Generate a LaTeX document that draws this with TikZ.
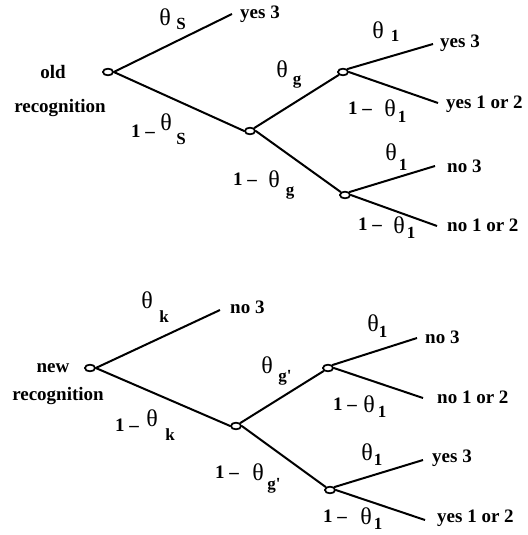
\documentclass[tikz,border=0pt]{standalone}
\usepackage{fontspec}
\setmainfont{Liberation Serif}[BoldFont={Liberation Serif Bold}]
\usetikzlibrary{shapes.geometric}
\tikzset{
  br/.style={line width=2pt},
  knot/.style={ellipse, draw, line width=1.6pt, minimum width=10pt, minimum height=6.5pt, inner sep=0pt, fill=white},
  lbl/.style={font=\fontsize{19}{21}\selectfont\bfseries, inner sep=0pt},
  txt/.style={lbl, anchor=west},
  th/.style={font=\fontsize{24}{26}\selectfont, inner sep=0pt},
  sb/.style={font=\fontsize{17}{19}\selectfont\bfseries, inner sep=0pt},
}
\begin{document}
\begin{tikzpicture}[x=1pt,y=-1pt]
\useasboundingbox (0,0) rectangle (527,535);
% ---------- top tree ----------
\node[knot] (r1) at (108,72) {};
\coordinate (e1) at (232,14);
\node[knot] (b1) at (250,131) {};
\node[knot] (c1) at (343,72) {};
\node[knot] (d1) at (345,195) {};
\coordinate (e2) at (433,44);
\coordinate (e3) at (438,103);
\coordinate (e4) at (435,166);
\coordinate (e5) at (437,226);
\draw[br] (r1.east) -- (e1);
\draw[br] (r1.east) -- (b1.west);
\draw[br] (b1.north east) -- (c1.south west);
\draw[br] (b1.east) -- (d1.north west);
\draw[br] (c1.north east) -- (e2);
\draw[br] (c1.east) -- (e3);
\draw[br] (d1.north east) -- (e4);
\draw[br] (d1.east) -- (e5);
\node[knot] at (r1) {};
\node[knot] at (b1) {};
\node[knot] at (c1) {};
\node[knot] at (d1) {};

\node[lbl] (old) at (53,72) {old};
\node[lbl] (rec1) at (60,108) {recognition};
\node[txt] (t1) at (240,14) {yes 3};
\node[txt] (t2) at (440,43) {yes 3};
\node[txt] (t3) at (446,104) {yes 1 or 2};
\node[txt] (t4) at (447,166) {no 3};
\node[txt] (t5) at (447,225) {no 1 or 2};

\node[th] (a1) at (165,17) {θ}; \node[sb] (a1s) at (181,24) {S};
\node[lbl] (a2m) at (143,131) {1 –}; \node[th] (a2) at (166,122) {θ}; \node[sb] (a2s) at (181,139) {S};
\node[th] (a3) at (282,69) {θ}; \node[sb] (a3s) at (297,82) {g};
\node[lbl] (a4m) at (245,179) {1 –}; \node[th] (a4) at (274,179) {θ}; \node[sb] (a4s) at (290,193) {g};
\node[th] (a5) at (378,30) {θ}; \node[sb] (a5s) at (395,36) {1};
\node[lbl] (a6m) at (360,108) {1 –}; \node[th] (a6) at (390,108) {θ}; \node[sb] (a6s) at (402,117) {1};
\node[th] (a7) at (391,152) {θ}; \node[sb] (a7s) at (403,165) {1};
\node[lbl] (a8m) at (370,224) {1 –}; \node[th] (a8) at (399,225) {θ}; \node[sb] (a8s) at (411,233) {1};

% ---------- bottom tree ----------
\node[knot] (r2) at (90,368) {};
\coordinate (f1) at (220,310);
\node[knot] (b2) at (236,426) {};
\node[knot] (c2) at (328,368) {};
\node[knot] (d2) at (330,490) {};
\coordinate (f2) at (417,338);
\coordinate (f3) at (423,398);
\coordinate (f4) at (423,460);
\coordinate (f5) at (425,520);
\draw[br] (r2.east) -- (f1);
\draw[br] (r2.east) -- (b2.west);
\draw[br] (b2.north east) -- (c2.south west);
\draw[br] (b2.east) -- (d2.north west);
\draw[br] (c2.north east) -- (f2);
\draw[br] (c2.east) -- (f3);
\draw[br] (d2.north east) -- (f4);
\draw[br] (d2.east) -- (f5);
\node[knot] at (r2) {};
\node[knot] at (b2) {};
\node[knot] at (c2) {};
\node[knot] at (d2) {};

\node[lbl] (new) at (53,368) {new};
\node[lbl] (rec2) at (58,396) {recognition};
\node[txt] (u1) at (230,307) {no 3};
\node[txt] (u2) at (425,337) {no 3};
\node[txt] (u3) at (437,397) {no 1 or 2};
\node[txt] (u4) at (432,458) {yes 3};
\node[txt] (u5) at (437,518) {yes 1 or 2};

\node[th] (b1t) at (147,300) {θ}; \node[sb] (b1s) at (164,317) {k};
\node[lbl] (b2m) at (127,425) {1 –}; \node[th] (b2t) at (152,418) {θ}; \node[sb] (b2s) at (170,435) {k};
\node[th] (b3t) at (267,365) {θ}; \node[sb] (b3s) at (285,378) {g\textquotesingle};
\node[lbl] (b4m) at (227,472) {1 –}; \node[th] (b4t) at (258,472) {θ}; \node[sb] (b4s) at (274,486) {g\textquotesingle};
\node[th] (b5t) at (373,323) {θ}; \node[sb] (b5s) at (383,332) {1};
\node[lbl] (b6m) at (345,404) {1 –}; \node[th] (b6t) at (369,404) {θ}; \node[sb] (b6s) at (382,412) {1};
\node[th] (b7t) at (367,452) {θ}; \node[sb] (b7s) at (378,460) {1};
\node[lbl] (b8m) at (335,516) {1 –}; \node[th] (b8t) at (366,516) {θ}; \node[sb] (b8s) at (378,524) {1};
\end{tikzpicture}
\end{document}
